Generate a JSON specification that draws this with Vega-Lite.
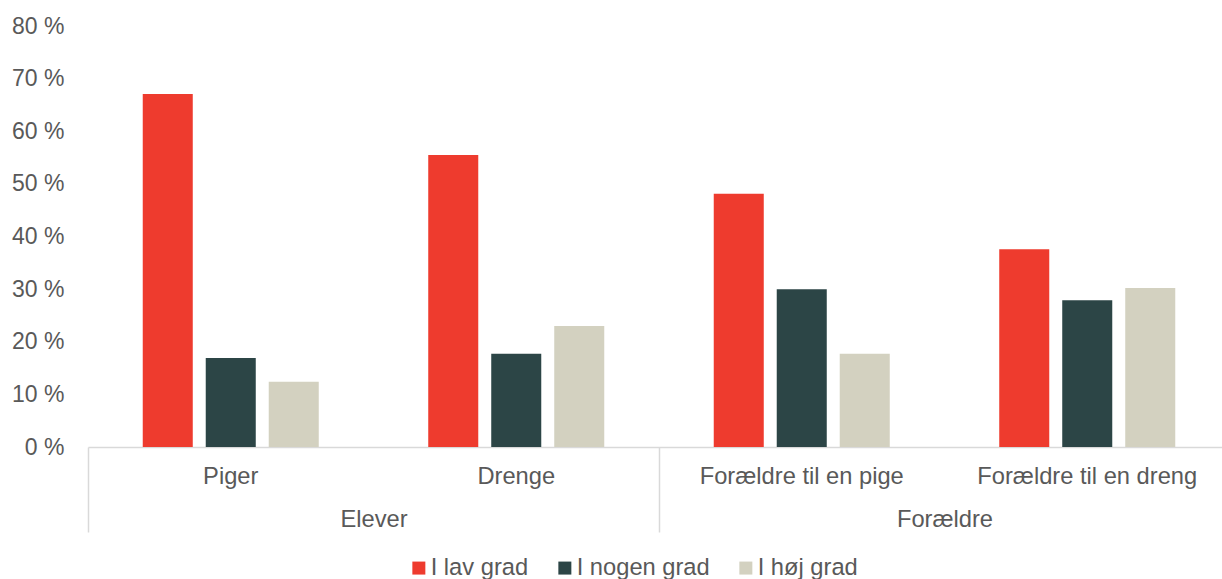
{
  "$schema": "https://vega.github.io/schema/vega-lite/v6.json",
  "autosize": {"type": "none"},
  "width": 1142,
  "height": 421,
  "padding": {"left": 88, "top": 26, "right": 0, "bottom": 132},
  "config": {
    "font": "Liberation Sans",
    "view": {"stroke": null},
    "axis": {"labelColor": "#595959", "labelFont": "Liberation Sans", "grid": false, "labelLimit": 0}
  },
  "data": {
    "values": [
      {"category": "Piger", "group": "Elever", "level": "I lav grad", "value": 67.1},
      {"category": "Piger", "group": "Elever", "level": "I nogen grad", "value": 16.9},
      {"category": "Piger", "group": "Elever", "level": "I høj grad", "value": 12.4},
      {"category": "Drenge", "group": "Elever", "level": "I lav grad", "value": 55.5},
      {"category": "Drenge", "group": "Elever", "level": "I nogen grad", "value": 17.7},
      {"category": "Drenge", "group": "Elever", "level": "I høj grad", "value": 23.0},
      {"category": "Forældre til en pige", "group": "Forældre", "level": "I lav grad", "value": 48.1},
      {"category": "Forældre til en pige", "group": "Forældre", "level": "I nogen grad", "value": 30.0},
      {"category": "Forældre til en pige", "group": "Forældre", "level": "I høj grad", "value": 17.7},
      {"category": "Forældre til en dreng", "group": "Forældre", "level": "I lav grad", "value": 37.6},
      {"category": "Forældre til en dreng", "group": "Forældre", "level": "I nogen grad", "value": 27.9},
      {"category": "Forældre til en dreng", "group": "Forældre", "level": "I høj grad", "value": 30.2}
    ]
  },
  "layer": [
    {
      "mark": {"type": "bar"},
      "encoding": {
        "x": {
          "field": "category", "type": "nominal",
          "sort": ["Piger", "Drenge", "Forældre til en pige", "Forældre til en dreng"],
          "scale": {"paddingInner": 0, "paddingOuter": 0},
          "axis": {"orient": "bottom", "title": null, "labelAngle": 0, "ticks": false, "labelPadding": 17, "labelFontSize": 23.7, "labelLimit": 0, "domainColor": "#D9D9D9", "domainWidth": 1.5}
        },
        "xOffset": {
          "field": "level", "type": "nominal",
          "sort": ["I lav grad", "I nogen grad", "I høj grad"],
          "scale": {"paddingInner": 0.206, "paddingOuter": 0.869}
        },
        "y": {
          "field": "value", "type": "quantitative",
          "scale": {"domain": [0, 80]},
          "axis": {"title": null, "values": [0, 10, 20, 30, 40, 50, 60, 70, 80], "labelExpr": "datum.label + ' %'", "domain": false, "ticks": false, "labelPadding": 24, "labelFontSize": 23}
        },
        "color": {
          "field": "level", "type": "nominal",
          "sort": ["I lav grad", "I nogen grad", "I høj grad"],
          "scale": {"domain": ["I lav grad", "I nogen grad", "I høj grad"], "range": ["#EE3B2E", "#2C4546", "#D3D1C0"]},
          "legend": {
            "orient": "none", "legendX": 319, "legendY": 530, "direction": "horizontal", "title": null,
            "symbolType": "square", "symbolSize": 169, "symbolStrokeWidth": 0, "symbolOpacity": 1,
            "labelFontSize": 23.7, "labelColor": "#595959", "labelFont": "Liberation Sans", "labelOffset": 0, "columnPadding": 24
          }
        }
      }
    },
    {
      "mark": {"type": "bar", "opacity": 0},
      "encoding": {
        "x": {
          "field": "group", "type": "nominal",
          "sort": ["Elever", "Forældre"],
          "scale": {"paddingInner": 0, "paddingOuter": 0},
          "axis": {"orient": "bottom", "title": null, "domain": false, "labelAngle": 0, "ticks": true, "tickBand": "extent", "tickSize": 85, "tickColor": "#D9D9D9", "tickWidth": 1.5, "labelPadding": -24.5, "labelFontSize": 23.7}
        }
      }
    }
  ],
  "resolve": {"scale": {"x": "independent"}}
}
